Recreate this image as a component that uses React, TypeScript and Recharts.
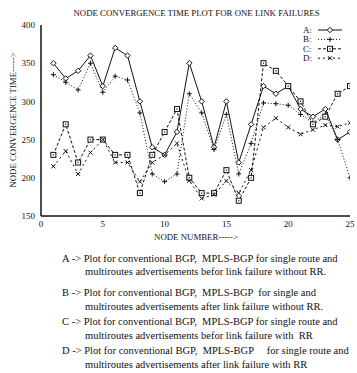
import React from 'react';
import { LineChart, Line, XAxis, YAxis } from 'recharts';

const nodes = [1, 2, 3, 4, 5, 6, 7, 8, 9, 10, 11, 12, 13, 14, 15, 16, 17, 18, 19, 20, 21, 22, 23, 24, 25];
const seriesA = [350, 330, 340, 360, 320, 370, 360, 300, 240, 230, 260, 350, 300, 240, 300, 220, 270, 320, 310, 320, 290, 280, 290, 250, 260];
const seriesB = [335, 325, 315, 350, 312, 333, 328, 285, 205, 195, 205, 310, 285, 237, 283, 205, 245, 298, 297, 295, 283, 272, 283, 250, 200];
const seriesC = [230, 270, 220, 250, 250, 230, 230, 180, 230, 260, 290, 200, 180, 180, 210, 170, 200, 350, 340, 320, 300, 270, 280, 310, 320];
const seriesD = [215, 235, 205, 233, 250, 220, 220, 195, 220, 230, 245, 196, 173, 178, 196, 180, 210, 266, 278, 266, 257, 263, 269, 267, 272];
const xTicks = [0, 5, 10, 15, 20, 25];
const yTicks = [150, 200, 250, 300, 350, 400];

const title = 'NODE CONVERGENCE TIME PLOT FOR ONE LINK FAILURES';
const xLabel = 'NODE NUMBER----->';
const yLabel = 'NODE CONVERGENCE TIME----->';
const legendNames = ['A:', 'B:', 'C:', 'D:'];
const captions = [
  'A -> Plot for conventional BGP,  MPLS-BGP for single route and',
  'multiroutes advertisements befor link failure without RR.',
  'B -> Plot for conventional BGP,  MPLS-BGP  for single and',
  'multiroutes advertisements after link failure without RR.',
  'C -> Plot for conventional BGP,  MPLS-BGP for single route and',
  'multiroutes advertisements befor link failure with  RR',
  'D -> Plot for conventional BGP,  MPLS-BGP     for single route and',
  'multiroutes advertisements after link failure with RR',
];

const data = nodes.map((n, i) => ({ node: n, A: seriesA[i], B: seriesB[i], C: seriesC[i], D: seriesD[i] }));

const FONT = '"Liberation Serif", "Times New Roman", serif';
const INK = '#111';

type MarkProps = { cx: number; cy: number };

const Diamond = ({ cx, cy }: MarkProps) => {
  const s = 2.7;
  return <path d={`M${cx},${cy - s}L${cx + s},${cy}L${cx},${cy + s}L${cx - s},${cy}Z`} fill="#fff" stroke={INK} strokeWidth={1} />;
};
const Plus = ({ cx, cy }: MarkProps) => {
  const s = 2.5;
  return <path d={`M${cx - s},${cy}H${cx + s}M${cx},${cy - s}V${cy + s}`} fill="none" stroke={INK} strokeWidth={1} />;
};
const Square = ({ cx, cy }: MarkProps) => {
  const s = 2.5;
  return (
    <g>
      <rect x={cx - s} y={cy - s} width={2 * s} height={2 * s} fill="#fff" stroke={INK} strokeWidth={1} />
      <rect x={cx - 0.6} y={cy - 0.6} width={1.2} height={1.2} fill={INK} />
    </g>
  );
};
const Cross = ({ cx, cy }: MarkProps) => {
  const s = 2;
  return <path d={`M${cx - s},${cy - s}L${cx + s},${cy + s}M${cx - s},${cy + s}L${cx + s},${cy - s}`} fill="none" stroke={INK} strokeWidth={1} />;
};

const markers = [Diamond, Plus, Square, Cross];
const dashes = ['', '1 2', '3 2', '2 3'];
const keys = ['A', 'B', 'C', 'D'];

const makeDot = (M: (p: MarkProps) => React.ReactElement) => (p: any) => {
  if (p.cx == null || p.cy == null) return <g key={p.index} />;
  return <g key={p.index}><M cx={p.cx} cy={p.cy} /></g>;
};

export default function App() {
  return (
    <div style={{ position: 'absolute', left: 0, top: 0, width: 357, height: 373, background: '#fff' }}>
      <LineChart width={357} height={373} data={data} margin={{ top: 25, right: 7, bottom: 137, left: 0 }}>
        <XAxis xAxisId="bt" dataKey="node" type="number" domain={[0, 25]} ticks={xTicks} allowDataOverflow
          orientation="bottom" mirror height={0} tick={false} tickSize={4} axisLine={false} tickLine={{ stroke: INK }} />
        <XAxis xAxisId="top" dataKey="node" type="number" domain={[0, 25]} ticks={xTicks} allowDataOverflow
          orientation="top" mirror height={0} tick={false} tickSize={4} axisLine={{ stroke: INK, strokeWidth: 1 }} tickLine={{ stroke: INK }} />
        <XAxis xAxisId="bottom" dataKey="node" type="number" domain={[0, 25]} ticks={xTicks} allowDataOverflow
          height={20} tickLine={false} tickSize={3} tickMargin={2}
          axisLine={{ stroke: INK, strokeWidth: 1.5 }}
          tick={{ fontSize: 9, fill: INK, fontFamily: FONT }} />
        <YAxis yAxisId="lt" type="number" domain={[150, 400]} ticks={yTicks} allowDataOverflow
          orientation="left" mirror width={0} tick={false} tickSize={4} axisLine={false} tickLine={{ stroke: INK }} />
        <YAxis yAxisId="rt" type="number" domain={[150, 400]} ticks={yTicks} allowDataOverflow
          orientation="right" mirror width={0} tick={false} tickSize={4} axisLine={{ stroke: INK, strokeWidth: 1.5 }} tickLine={{ stroke: INK }} />
        <YAxis yAxisId="left" type="number" domain={[150, 400]} ticks={yTicks} allowDataOverflow
          width={41} tickLine={false} tickSize={4} tickMargin={2}
          axisLine={{ stroke: INK, strokeWidth: 1.5 }}
          tick={{ fontSize: 9, fill: INK, fontFamily: FONT }} />
        {keys.map((k, i) => (
          <Line key={k} xAxisId="bottom" yAxisId="left" dataKey={k} type="linear" stroke={INK} strokeWidth={1}
            strokeDasharray={dashes[i] || undefined} dot={makeDot(markers[i])} activeDot={false} isAnimationActive={false} />
        ))}
      </LineChart>
      <svg width={357} height={373} style={{ position: 'absolute', left: 0, top: 0, pointerEvents: 'none' }} fontFamily={FONT} fill={INK}>
        <text x={196.5} y={13} fontSize={8.8} textAnchor="middle" dominantBaseline="central">{title}</text>
        <text x={196} y={237} fontSize={8.8} textAnchor="middle" dominantBaseline="central">{xLabel}</text>
        <text x={13} y={120} fontSize={8.8} textAnchor="middle" dominantBaseline="central" transform="rotate(-90 13 120)">{yLabel}</text>
        {legendNames.map((n, i) => {
          const y = 30 + i * 9.4;
          const M = markers[i];
          return (
            <g key={n}>
              <text x={303} y={y} fontSize={9} dominantBaseline="central">{n}</text>
              <line x1={318} x2={342} y1={y} y2={y} stroke={INK} strokeWidth={1} strokeDasharray={dashes[i] || undefined} />
              <M cx={330} cy={y} />
            </g>
          );
        })}
        {captions.map((c, i) => {
          const ys = [258, 271.5, 292, 306.5, 321, 335, 350, 364];
          const x = i % 2 === 0 ? 62 : 85;
          return (
            <text key={i} x={x} y={ys[i]} fontSize={10.5} dominantBaseline="central" style={{ whiteSpace: 'pre' }}>{c}</text>
          );
        })}
      </svg>
    </div>
  );
}
